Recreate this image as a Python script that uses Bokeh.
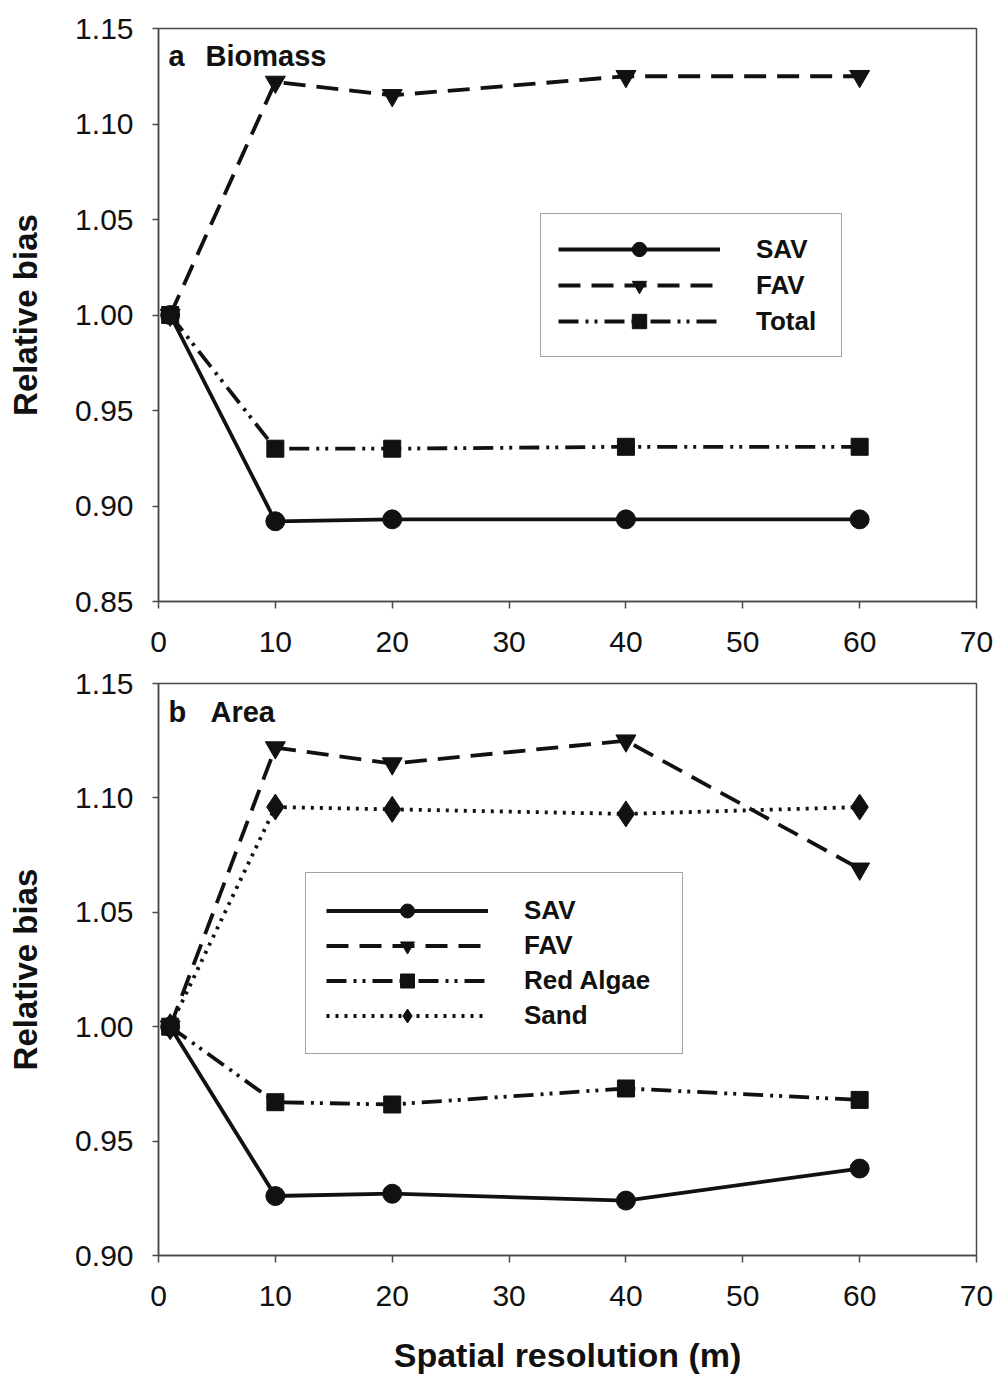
from bokeh.plotting import figure
from bokeh.layouts import column
from bokeh.models import (Label, Legend, LegendItem, FixedTicker,
                          PrintfTickFormatter)
from bokeh.embed import file_html
from bokeh.resources import INLINE

# ---------------- data ----------------
resolution = [1, 10, 20, 40, 60]

biomass_sav = [1.000, 0.892, 0.893, 0.893, 0.893]
biomass_fav = [1.000, 1.122, 1.115, 1.125, 1.125]
biomass_total = [1.000, 0.930, 0.930, 0.931, 0.931]

area_sav = [1.000, 0.926, 0.927, 0.924, 0.938]
area_fav = [1.000, 1.122, 1.115, 1.125, 1.069]
area_red_algae = [1.000, 0.967, 0.966, 0.973, 0.968]
area_sand = [1.000, 1.096, 1.095, 1.093, 1.096]

x_ticks = [0, 10, 20, 30, 40, 50, 60, 70]
y_ticks_a = [0.85, 0.90, 0.95, 1.00, 1.05, 1.10, 1.15]
y_ticks_b = [0.90, 0.95, 1.00, 1.05, 1.10, 1.15]

FONT = "Liberation Sans"
INK = "#111111"
FRAME = "#4a4a4a"


def make_fig(height, y_range, y_ticks, top, bottom, xlabel):
    p = figure(width=997, height=height, x_range=(0, 70), y_range=y_range,
               output_backend="svg", toolbar_location=None,
               min_border_left=158, min_border_right=21,
               min_border_top=top, min_border_bottom=bottom)
    p.grid.visible = False
    p.outline_line_color = FRAME
    p.outline_line_width = 1.5
    p.background_fill_color = "white"
    p.border_fill_color = "white"

    xa = p.xaxis[0]
    xa.ticker = FixedTicker(ticks=x_ticks)
    xa.minor_tick_line_color = None
    xa.major_tick_out = 7
    xa.major_tick_in = 0
    xa.major_label_standoff = 23
    xa.major_label_text_font = FONT
    xa.major_label_text_font_size = "30px"
    xa.major_label_text_color = INK
    xa.axis_line_color = FRAME
    xa.axis_line_width = 1.5
    xa.major_tick_line_color = FRAME
    xa.major_tick_line_width = 1.5
    if xlabel:
        xa.axis_label = xlabel
        xa.axis_label_text_font = FONT
        xa.axis_label_text_font_style = "bold"
        xa.axis_label_text_font_size = "34px"
        xa.axis_label_text_color = INK
        xa.axis_label_standoff = 27

    ya = p.yaxis[0]
    ya.ticker = FixedTicker(ticks=y_ticks)
    ya.formatter = PrintfTickFormatter(format="%.2f")
    ya.minor_tick_line_color = None
    ya.major_tick_out = 6
    ya.major_tick_in = 0
    ya.major_label_standoff = 19
    ya.major_label_text_font = FONT
    ya.major_label_text_font_size = "30px"
    ya.major_label_text_color = INK
    ya.axis_line_color = FRAME
    ya.axis_line_width = 1.5
    ya.major_tick_line_color = FRAME
    ya.major_tick_line_width = 1.5
    ya.axis_label = "Relative bias"
    ya.axis_label_text_font = FONT
    ya.axis_label_text_font_style = "bold"
    ya.axis_label_text_font_size = "33px"
    ya.axis_label_text_color = INK
    ya.axis_label_standoff = 28
    return p


STYLES = {
    "SAV": dict(dash="solid", marker="circle", size=19),
    "FAV": dict(dash="22 11", marker="inverted_triangle", size=20),
    "Total": dict(dash="20 7 3 6 3 7", marker="square", size=17),
    "Red Algae": dict(dash="20 7 3 6 3 7", marker="square", size=17),
    "Sand": dict(dash="3 6", marker="diamond", size=26),
}


def add_series(p, name, ys):
    st = STYLES[name]
    lr = p.line(resolution, ys, line_color=INK, line_width=3.8,
                line_dash=st["dash"])
    sr = p.scatter(resolution, ys, marker=st["marker"], size=st["size"],
                   fill_color=INK, line_color=INK, line_width=1)
    return LegendItem(label=name, renderers=[lr, sr])


def add_legend(p, items, loc, padding, glyph_h, standoff, label_width):
    lg = Legend(items=items, location=loc, margin=0, padding=padding,
                spacing=0, glyph_width=162, glyph_height=glyph_h,
                label_standoff=standoff, label_width=label_width,
                label_height=glyph_h,
                label_text_font=FONT, label_text_font_style="bold",
                label_text_font_size="26px", label_text_color=INK,
                label_text_baseline="middle",
                border_line_color=FRAME, border_line_width=1.5,
                background_fill_color="white", background_fill_alpha=1.0)
    p.add_layout(lg)


def add_panel_label(p, letter, title, title_x, y):
    for txt, x in ((letter, 10), (title, title_x)):
        p.add_layout(Label(x=x, y=y, x_units="screen", y_units="screen",
                           text=txt, text_font=FONT,
                           text_font_style="bold", text_font_size="29px",
                           text_color=INK, text_baseline="middle"))


# ---------------- panel a ----------------
pa = make_fig(664, (0.85, 1.15), y_ticks_a, 28, 63, None)
items_a = [add_series(pa, "SAV", biomass_sav),
           add_series(pa, "FAV", biomass_fav),
           add_series(pa, "Total", biomass_total)]
add_legend(pa, items_a, (382, 244), 17, 36, 36, 68)
add_panel_label(pa, "a", "Biomass", 47, 573 - 27)

# ---------------- panel b ----------------
pb = make_fig(712, (0.90, 1.15), y_ticks_b, 19, 120,
              "Spatial resolution (m)")
items_b = [add_series(pb, "SAV", area_sav),
           add_series(pb, "FAV", area_fav),
           add_series(pb, "Red Algae", area_red_algae),
           add_series(pb, "Sand", area_sand)]
add_legend(pb, items_b, (147, 201), 20, 35, 36, 138)
add_panel_label(pb, "b", "Area", 52, 573 - 29)

layout = column(pa, pb, spacing=0)
open("out.html", "w").write(file_html(layout, INLINE))
